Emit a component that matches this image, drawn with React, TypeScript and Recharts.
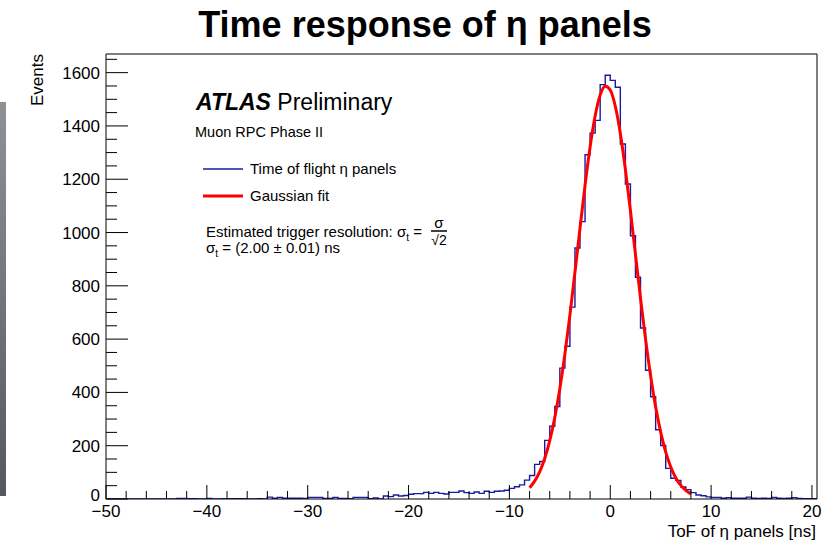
import React from 'react'
import { ComposedChart, Line, XAxis, YAxis, ReferenceLine } from 'recharts'

// histogram binning: 0.5 ns bins starting at -50 ns
const BIN_START = -50
const BIN_WIDTH = 0.5

// counts per bin
const countsFarLeft = [0, 0, 0, 0, 0, 0, 0, 0, 0, 0, 0, 0, 0, 0] // -50 .. -43
const countsLeftTail = [2, 2, 1, 1, 0, 0, 2, 0, 0, 1, 1, 1, 1, 1, 0, 0, 1, 0, 7, 3, 6, 3, 3, 3, 3] // -43 .. -30.5
const countsShoulder = [
  2, 6, 6, 6, 2, 2, 6, 2, 2, 1, 6, 6, 6, 1, 4, 0, 11, 9, 15, 11, 13, 18, 20, 20, 25, 21, 25, 21, 19, 25,
  25, 30, 24, 21, 26, 21, 29, 25, 29, 30, 33, 40, 46
] // -30.5 .. -9
const countsCore = [
  53, 71, 88, 130, 141, 220, 273, 347, 491, 573, 720, 942, 1041, 1292, 1373, 1421, 1555, 1590, 1571, 1545,
  1332, 1182, 988, 832, 642, 483, 384, 260, 201, 115, 78, 70, 45, 35, 24, 15
] // -9 .. 9
const countsRightTail = [12, 8, 6, 6, 3, 5, 3, 3, 3, 7, 3, 2, 3, 2, 6, 3, 2, 3, 5, 2, 1, 1, 1] // 9 .. 20.5

// gaussian fit curve
const fitTime = [-8, -7.5, -7, -6.5, -6, -5.5, -5, -4.5, -4, -3.5, -3, -2.5, -2, -1.5, -1, -0.5, 0, 0.5, 1, 1.5, 2, 2.5, 3, 3.5, 4, 4.5, 5, 5.5, 6, 6.5, 7, 7.5, 8]
const fitEvents = [42, 67, 102, 152, 219, 306, 414, 543, 690, 851, 1016, 1177, 1321, 1437, 1516, 1549, 1535, 1474, 1372, 1237, 1082, 917, 753, 600, 463, 346, 251, 176, 120, 79, 51, 32, 19]

// axis ticks
const xTicks = [-50, -48, -46, -44, -42, -40, -38, -36, -34, -32, -30, -28, -26, -24, -22, -20, -18, -16, -14, -12, -10, -8, -6, -4, -2, 0, 2, 4, 6, 8, 10, 12, 14, 16, 18, 20]
const xLabels = [-50, -40, -30, -20, -10, 0, 10, 20]
const yTicks = [0, 50, 100, 150, 200, 250, 300, 350, 400, 450, 500, 550, 600, 650, 700, 750, 800, 850, 900, 950, 1000, 1050, 1100, 1150, 1200, 1250, 1300, 1350, 1400, 1450, 1500, 1550, 1600, 1650]
const yLabels = [0, 200, 400, 600, 800, 1000, 1200, 1400, 1600]

const X_MAX = 20.5
const Y_MAX = 1670

const FONT = '"Liberation Sans", Arial, Helvetica, sans-serif'
const BLUE = '#1a1aa0'
const RED = '#ff0000'

const counts = [...countsFarLeft, ...countsLeftTail, ...countsShoulder, ...countsCore, ...countsRightTail]
const histData = counts.map((c, i) => ({ x: BIN_START + i * BIN_WIDTH, count: c }))
histData.push({ x: X_MAX, count: counts[counts.length - 1] })
const fitData = fitTime.map((t, i) => ({ x: t, fit: fitEvents[i] }))

const fmt = (v: number) => (v < 0 ? '\u2212' + Math.abs(v) : String(v))

function XTick(props: any) {
  const { x, y, payload } = props
  const major = xLabels.includes(payload.value)
  return (
    <g>
      <line x1={x} x2={x} y1={y} y2={y - (major ? 14 : 8)} stroke="#000" strokeWidth={1} />
      {major && (
        <text x={x} y={y + 18} textAnchor="middle" fontSize={17} fontFamily={FONT} fill="#000">
          {fmt(payload.value)}
        </text>
      )}
    </g>
  )
}

function YTick(props: any) {
  const { x, y, payload } = props
  const major = yLabels.includes(payload.value)
  // the zero label sits a little higher so it clears the x labels
  const dy = payload.value === 0 ? 2 : 6
  return (
    <g>
      <line x1={x} x2={x + (major ? 22 : 11)} y1={y} y2={y} stroke="#000" strokeWidth={1} />
      {major && (
        <text x={x - 6} y={y + dy} textAnchor="end" fontSize={17} fontFamily={FONT} fill="#000">
          {payload.value}
        </text>
      )}
    </g>
  )
}

export default function App() {
  return (
    <div style={{ position: 'absolute', left: 0, top: 0, width: 830, height: 540, background: '#fff' }}>
      <div
        style={{
          position: 'absolute', left: 0, top: 102, width: 6, height: 394,
          background: 'linear-gradient(#8e9196, #55585c)'
        }}
      />
      <ComposedChart width={830} height={540} margin={{ top: 54, right: 13, left: 0, bottom: 0 }}>
        <XAxis
          dataKey="x" type="number" domain={[BIN_START, X_MAX]} allowDataOverflow
          ticks={xTicks} interval={0} tick={<XTick />} tickLine={false} tickSize={0} tickMargin={0}
          axisLine={{ stroke: '#000' }} height={41}
        />
        <YAxis
          type="number" domain={[0, Y_MAX]} allowDataOverflow
          ticks={yTicks} interval={0} tick={<YTick />} tickLine={false} tickSize={0} tickMargin={0}
          axisLine={{ stroke: '#000' }} width={106}
        />
        <ReferenceLine y={Y_MAX} stroke="#000" />
        <ReferenceLine x={X_MAX} stroke="#000" />
        <Line data={histData} dataKey="count" type="stepAfter" stroke={BLUE} strokeWidth={1.4} dot={false} isAnimationActive={false} />
        <Line data={fitData} dataKey="fit" type="monotone" stroke={RED} strokeWidth={3} dot={false} isAnimationActive={false} />
      </ComposedChart>
      <svg width={830} height={540} style={{ position: 'absolute', left: 0, top: 0, pointerEvents: 'none' }} fontFamily={FONT}>
        <text x={425} y={37} textAnchor="middle" fontSize={36} fontWeight="bold">Time response of η panels</text>
        <text x={43} y={54} textAnchor="end" fontSize={17} transform="rotate(-90 43 54)">Events</text>
        <text x={816} y={537} textAnchor="end" fontSize={17}>ToF of η panels [ns]</text>

        <text x={196} y={110} fontSize={23}>
          <tspan fontWeight="bold" fontStyle="italic">ATLAS</tspan>
          <tspan> Preliminary</tspan>
        </text>
        <text x={195} y={137} fontSize={14.5}>Muon RPC Phase II</text>

        <line x1={203} x2={243} y1={169} y2={169} stroke={BLUE} strokeWidth={1.3} />
        <text x={250} y={174} fontSize={15}>Time of flight η panels</text>
        <line x1={203} x2={243} y1={196} y2={196} stroke={RED} strokeWidth={3} />
        <text x={250} y={201} fontSize={15}>Gaussian fit</text>

        <text x={206} y={237} fontSize={15}>
          Estimated trigger resolution: σ<tspan fontSize={10} dy={4}>t</tspan>
          <tspan dy={-4}> =</tspan>
        </text>
        <text x={439} y={228} fontSize={15} textAnchor="middle">σ</text>
        <line x1={431} x2={447} y1={231} y2={231} stroke="#000" strokeWidth={1.5} />
        <text x={439} y={245} fontSize={14} textAnchor="middle">√2</text>
        <text x={206} y={253} fontSize={15}>
          σ<tspan fontSize={10} dy={4}>t</tspan>
          <tspan dy={-4}> = (2.00 ± 0.01) ns</tspan>
        </text>
      </svg>
    </div>
  )
}
